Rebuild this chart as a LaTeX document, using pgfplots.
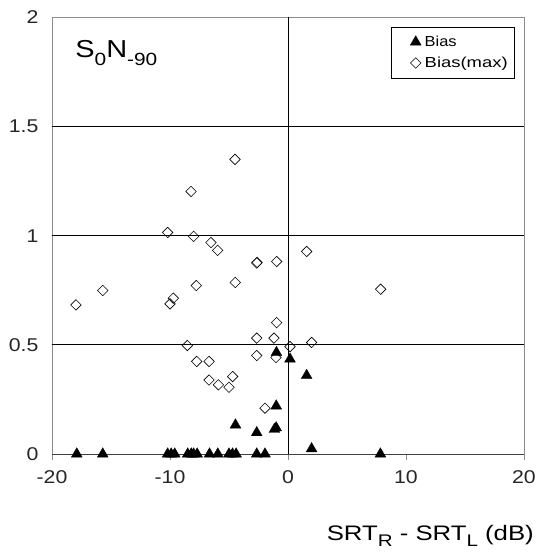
\documentclass[border=0pt]{standalone}
\usepackage{fontspec}
\setmainfont{Liberation Sans}
\usepackage{graphicx}
\usepackage{pgfplots}
\pgfplotsset{compat=1.18}
\definecolor{FrameGray}{HTML}{8C8C8C}

% subscript: size ratio, drop
\newcommand{\sub}[3][0.3em]{\raisebox{-#1}{\fontsize{#2em}{#2em}\selectfont #3}}
% stretch text to a given width, keeping its height
\newcommand{\wide}[2]{\resizebox{#1}{\height}{#2}}

\begin{document}
\begin{tikzpicture}
  \begin{axis}[
    at={(0pt,0pt)}, anchor=south west,
    scale only axis,
    width=472pt, height=436.5pt,
    xmin=-20, xmax=20,
    ymin=0, ymax=2,
    xtick={-20,-10,0,10,20},
    ytick={0,0.5,1,1.5,2},
    xtick align=outside,
    ytick align=inside,
    major tick length=6pt,
    xtick style={draw=FrameGray, line width=0.8pt},
    ytick style={draw=none},
    axis x line*=bottom,
    axis y line*=left,
    axis line style={draw=FrameGray, line width=0.8pt},
    /pgf/number format/assume math mode=true,
    xticklabel={\scalebox{1.15}[1]{\pgfmathprintnumber{\tick}}},
    yticklabel={\scalebox{1.15}[1]{\pgfmathprintnumber{\tick}}},
    tick label style={font=\fontsize{18.5}{20}\selectfont, color=black!85},
    xticklabel style={yshift=-7pt},
    yticklabel style={xshift=-10pt},
    clip=false,
    legend style={
      at={(0.981,0.979)}, anchor=north east,
      draw=black, line width=0.6pt,
      font=\fontsize{14.5}{17}\selectfont,
      inner xsep=5pt, inner ysep=7pt,
      row sep=5pt,
      cells={anchor=west, inner sep=0pt},
    },
    legend image code/.code={%
      \path[draw=none] (0pt,0pt) -- (26pt,0pt);
      \draw[#1] plot coordinates {(19pt,0pt)};},
  ]
  % frame top and right, grid lines
  \addplot[draw=FrameGray, line width=0.8pt, forget plot] coordinates {(-20,2) (20,2) (20,0)};
  \addplot[black, line width=0.9pt, forget plot] coordinates {(-20,0.5) (20,0.5)};
  \addplot[black, line width=0.9pt, forget plot] coordinates {(-20,1) (20,1)};
  \addplot[black, line width=0.9pt, forget plot] coordinates {(-20,1.5) (20,1.5)};
  \addplot[black, line width=0.9pt, forget plot] coordinates {(0,0) (0,2)};
  \addplot[draw=black!75, line width=0.8pt, forget plot] coordinates {(-20,0) (20,0)};

  \addplot[only marks, mark=triangle*, mark size=6.3pt, color=black, mark options={fill=black, line width=0.3pt}] coordinates {
    (-17.9,0) (-15.7,0) (-10.2,0) (-9.9,0) (-9.6,0) (-8.5,0) (-8.2,0)
    (-8.0,0) (-7.7,0) (-6.65,0) (-5.95,0) (-5.0,0) (-4.7,0) (-4.4,0)
    (-2.65,0) (-1.95,0) (7.83,0)
    (-4.45,0.133) (-2.65,0.098) (-1.15,0.113) (-1.0,0.12) (-1.0,0.22)
    (-0.98,0.465) (0.17,0.435) (1.58,0.36) (2.0,0.024)
  };
  \addlegendentry{\wide{32pt}{Bias}}

  \addplot[only marks, mark=square, mark size=3.7pt, color=black, mark options={rotate=45, fill=white, line width=0.6pt}] coordinates {
    (-17.97,0.683) (-15.7,0.749) (-10.2,1.015) (-10.0,0.688) (-9.72,0.714)
    (-8.53,0.497) (-8.22,1.203) (-8.0,0.997) (-7.77,0.772) (-7.74,0.424)
    (-6.69,0.424) (-6.69,0.339) (-6.53,0.969) (-5.96,0.933) (-5.9,0.317)
    (-5.0,0.306) (-4.69,0.355) (-4.49,1.35) (-4.47,0.786) (-2.65,0.875)
    (-2.62,0.878) (-2.65,0.531) (-2.65,0.451) (-1.95,0.21) (-1.19,0.531)
    (-1.02,0.442) (-0.96,0.882) (-0.96,0.602) (0.17,0.492) (1.58,0.928)
    (2.0,0.511) (7.85,0.755)
  };
  \addlegendentry{\wide{83pt}{Bias(max)}}

  \node[anchor=base west, font=\fontsize{24.5}{26}\selectfont, inner sep=0pt]
    at (rel axis cs:0.049,0.908) {\wide{82pt}{S\sub{0.72}{0}N\sub{0.72}{-90}}};
  \end{axis}
  \node[anchor=base east, font=\fontsize{21}{23}\selectfont, inner sep=0pt]
    at (482pt,-86.5pt) {\wide{207pt}{SRT\sub[0.3em]{0.8}{R} - SRT\sub[0.3em]{0.8}{L} (dB)}};
  \path (-52pt,-98pt) rectangle (483pt,454pt);
\end{tikzpicture}
\end{document}
